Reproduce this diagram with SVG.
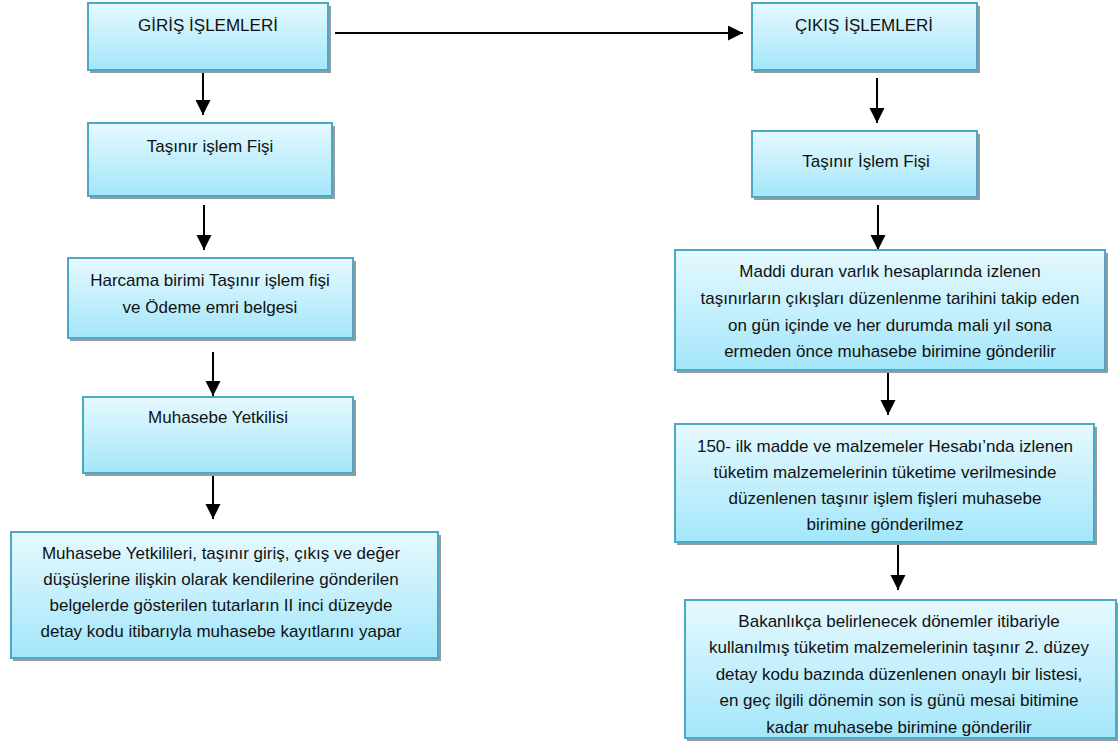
<svg xmlns="http://www.w3.org/2000/svg" width="1120" height="747" viewBox="0 0 1120 747">
<defs>
<linearGradient id="g" x1="0" y1="0" x2="0" y2="1">
<stop offset="0" stop-color="#e6f9fe"/>
<stop offset="1" stop-color="#a3e6fa"/>
</linearGradient>
<marker id="ah" markerUnits="userSpaceOnUse" markerWidth="16" markerHeight="16" refX="15" refY="7.5" orient="auto">
<path d="M0,0 L15,7.5 L0,15 z" fill="#000"/>
</marker>
<clipPath id="c10"><rect x="685" y="600" width="431" height="137"/></clipPath>
</defs>
<style>
.sh{fill:#9a9a9a}
.bx{fill:url(#g);stroke:#4aa9c6;stroke-width:2}
.t{font-family:"Liberation Sans",Arial,sans-serif;font-size:17px;fill:#111;text-anchor:middle}
.ar{stroke:#000;stroke-width:2;fill:none;marker-end:url(#ah)}
</style>
<rect width="1120" height="747" fill="#fff"/>

<g id="connectors">
<line class="ar" x1="203" y1="71" x2="203" y2="115"/>
<line class="ar" x1="204" y1="205" x2="204" y2="250"/>
<line class="ar" x1="213" y1="352" x2="213" y2="396"/>
<line class="ar" x1="213" y1="474" x2="213" y2="519"/>
<line class="ar" x1="335" y1="33" x2="743" y2="33"/>
<line class="ar" x1="877" y1="78" x2="877" y2="123"/>
<line class="ar" x1="878" y1="205" x2="878" y2="250"/>
<line class="ar" x1="888" y1="372" x2="888" y2="415"/>
<line class="ar" x1="898" y1="545" x2="898" y2="590"/>
</g>

<g id="giris">
<rect class="sh" x="90" y="6" width="241" height="67"/>
<rect class="bx" x="88" y="3" width="240" height="67"/>
<text class="t" x="208" y="31">GİRİŞ İŞLEMLERİ</text>
</g>

<g id="tasinir-islem-fisi-sol">
<rect class="sh" x="90" y="126" width="245" height="73"/>
<rect class="bx" x="88" y="123" width="244" height="73"/>
<text class="t" x="210" y="152">Taşınır işlem Fişi</text>
</g>

<g id="harcama">
<rect class="sh" x="70" y="261" width="286" height="80"/>
<rect class="bx" x="68" y="258" width="285" height="80"/>
<text class="t" x="210" y="286">Harcama birimi Taşınır işlem fişi</text>
<text class="t" x="210" y="313">ve Ödeme emri belgesi</text>
</g>

<g id="muhasebe-yetkilisi">
<rect class="sh" x="85" y="400" width="271" height="76"/>
<rect class="bx" x="83" y="397" width="270" height="76"/>
<text class="t" x="218" y="423">Muhasebe Yetkilisi</text>
</g>

<g id="muhasebe-yetkilileri">
<rect class="sh" x="13" y="535" width="428" height="126"/>
<rect class="bx" x="11" y="532" width="427" height="126"/>
<text class="t" x="221" y="559">Muhasebe Yetkilileri, taşınır giriş, çıkış ve değer</text>
<text class="t" x="221" y="585">düşüşlerine ilişkin olarak kendilerine gönderilen</text>
<text class="t" x="221" y="611">belgelerde gösterilen tutarların II inci düzeyde</text>
<text class="t" x="221" y="637">detay kodu itibarıyla muhasebe kayıtlarını yapar</text>
</g>

<g id="cikis">
<rect class="sh" x="754" y="6" width="226" height="67"/>
<rect class="bx" x="752" y="3" width="225" height="67"/>
<text class="t" x="864" y="31">ÇIKIŞ İŞLEMLERİ</text>
</g>

<g id="tasinir-islem-fisi-sag">
<rect class="sh" x="754" y="134" width="226" height="66"/>
<rect class="bx" x="752" y="131" width="225" height="66"/>
<text class="t" x="866" y="167">Taşınır İşlem Fişi</text>
</g>

<g id="maddi-duran">
<rect class="sh" x="677" y="253" width="431" height="120"/>
<rect class="bx" x="675" y="250" width="430" height="120"/>
<text class="t" x="890" y="277">Maddi duran varlık hesaplarında izlenen</text>
<text class="t" x="890" y="304">taşınırların çıkışları düzenlenme tarihini takip eden</text>
<text class="t" x="890" y="331">on gün içinde ve her durumda mali yıl sona</text>
<text class="t" x="890" y="357">ermeden önce muhasebe birimine gönderilir</text>
</g>

<g id="ilk-madde">
<rect class="sh" x="677" y="427" width="420" height="118"/>
<rect class="bx" x="675" y="424" width="419" height="118"/>
<text class="t" x="885" y="452">150- ilk madde ve malzemeler Hesabı’nda izlenen</text>
<text class="t" x="885" y="478">tüketim malzemelerinin tüketime verilmesinde</text>
<text class="t" x="885" y="504">düzenlenen taşınır işlem fişleri muhasebe</text>
<text class="t" x="885" y="530">birimine gönderilmez</text>
</g>

<g id="bakanlikca">
<rect class="sh" x="687" y="603" width="431" height="138"/>
<rect class="bx" x="685" y="600" width="431" height="138"/>
<g clip-path="url(#c10)">
<text class="t" x="899" y="627">Bakanlıkça belirlenecek dönemler itibariyle</text>
<text class="t" x="899" y="653">kullanılmış tüketim malzemelerinin taşınır 2. düzey</text>
<text class="t" x="899" y="680">detay kodu bazında düzenlenen onaylı bir listesi,</text>
<text class="t" x="899" y="706">en geç ilgili dönemin son is günü mesai bitimine</text>
<text class="t" x="899" y="733">kadar muhasebe birimine gönderilir</text>
</g>
</g>
</svg>
